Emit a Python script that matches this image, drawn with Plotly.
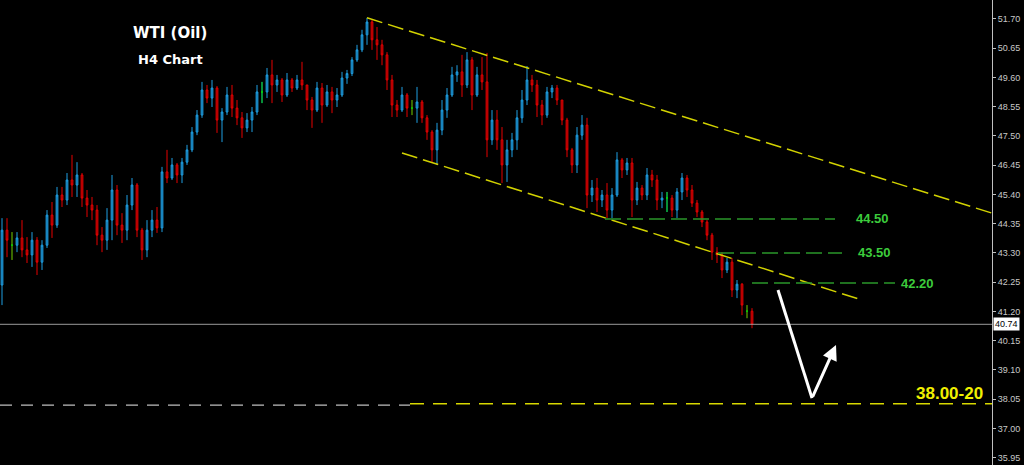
import plotly.graph_objects as go

# ---- data (H4 candles) ----
opens = [42.15,44.12,43.58,43.58,43.84,43.41,43.23,43.76,42.97,43.58,
         44.66,44.30,45.38,45.20,45.92,45.74,46.10,45.27,45.02,44.84,
         43.94,43.76,44.48,45.56,44.30,44.12,45.02,45.74,44.12,43.41,
         44.12,44.48,44.20,46.21,45.99,46.46,46.10,46.56,47.00,47.64,
         48.25,49.15,48.86,49.22,48.07,48.36,48.97,48.50,48.15,47.79,
         48.07,48.36,49.08,49.08,49.69,49.33,49.51,48.97,49.51,49.22,
         49.51,49.33,48.79,48.43,49.22,48.61,49.08,48.79,48.97,49.58,
         49.74,50.23,50.59,51.13,51.59,50.95,50.77,50.41,49.51,48.61,
         48.43,48.97,48.50,48.50,48.72,48.15,47.64,47.00,47.71,48.43,
         48.97,49.69,49.80,49.33,50.23,48.97,49.69,49.44,47.36,48.07,
         47.36,46.46,47.00,47.36,48.15,48.79,49.51,49.33,48.61,48.25,
         49.08,49.22,48.79,48.07,47.00,46.46,47.53,47.89,45.38,45.63,
         45.20,45.38,44.84,45.38,46.64,46.28,46.53,45.20,45.63,45.38,
         46.10,45.92,45.20,45.27,45.27,44.84,45.49,45.99,45.56,45.09,
         44.77,44.41,43.94,43.33,43.23,42.69,42.97,41.97,42.18,41.21,
         41.21]
highs = [44.55,44.55,44.05,44.05,44.48,43.87,44.05,43.87,43.76,44.84,
         45.13,45.67,45.67,46.17,46.82,46.56,46.17,45.56,45.31,45.02,
         44.23,44.91,46.10,45.74,44.73,45.38,45.99,45.81,44.20,44.48,
         44.84,44.95,46.39,47.00,46.71,46.53,46.71,47.18,47.82,48.43,
         49.44,49.33,49.51,49.29,48.50,49.26,49.33,48.79,48.36,48.32,
         48.54,49.33,49.44,49.94,50.23,49.69,49.58,49.76,49.58,49.69,
         50.16,49.33,48.90,49.44,49.40,49.33,49.26,49.22,49.80,49.87,
         50.33,50.77,51.31,51.74,51.66,51.41,50.95,50.51,49.69,48.79,
         49.26,49.04,48.79,49.26,48.79,48.25,47.71,47.97,48.79,49.22,
         49.98,50.04,50.41,50.51,50.33,49.98,50.33,50.48,48.43,48.43,
         47.82,47.36,47.61,48.43,49.15,50.01,49.69,49.51,48.79,49.26,
         49.33,49.33,48.79,48.15,47.07,47.82,48.25,48.15,45.92,45.99,
         45.56,45.81,45.63,46.92,46.71,46.71,46.71,45.85,45.74,46.35,
         46.28,46.10,45.49,45.49,45.38,45.63,46.17,46.10,45.74,45.20,
         44.84,44.48,44.02,43.51,43.33,43.12,43.12,42.33,42.22,41.43,
         41.32]
lows = [41.43,43.15,43.05,43.33,43.15,42.94,42.80,42.51,42.69,43.48,
        43.84,44.20,44.95,45.02,45.31,45.31,44.95,44.59,44.48,43.58,
        43.33,43.41,43.76,43.94,43.66,43.76,44.84,43.87,43.05,43.15,
        43.87,44.02,44.05,45.81,45.92,45.81,45.81,46.46,46.92,47.53,
        48.15,48.68,48.54,47.61,47.28,48.25,48.18,47.89,47.43,47.64,
        47.64,48.25,48.68,48.86,48.68,49.08,48.72,48.90,49.08,49.15,
        49.15,48.43,47.79,48.36,47.97,48.54,48.32,48.54,48.90,49.37,
        49.65,50.16,50.51,50.77,50.59,50.23,50.04,49.15,48.18,48.18,
        48.36,48.18,48.25,47.97,47.97,47.36,46.53,46.46,47.53,48.15,
        48.90,49.44,48.90,49.22,48.43,48.90,49.15,46.74,47.18,47.00,
        45.81,45.85,46.74,47.00,47.97,48.61,49.08,48.18,47.89,48.15,
        48.86,48.61,47.89,46.74,46.17,46.17,47.36,44.91,45.13,44.77,
        44.95,44.55,44.55,45.31,45.99,46.10,44.59,45.02,45.20,45.20,
        45.67,44.84,44.91,44.77,44.59,44.55,45.20,45.31,44.95,44.59,
        44.23,43.76,43.05,42.94,42.40,42.58,41.72,41.68,41.07,40.96,
        40.60]
closes = [44.12,43.76,43.58,43.84,43.41,43.23,43.76,42.97,43.58,44.66,
          44.30,45.38,45.20,45.92,45.74,46.10,45.27,45.02,44.84,43.94,
          43.76,44.48,45.56,44.30,44.12,45.02,45.74,44.12,43.41,44.12,
          44.48,44.20,46.21,45.99,46.46,46.10,46.56,47.00,47.64,48.25,
          49.15,48.86,49.22,48.07,48.36,48.97,48.50,48.15,47.79,48.07,
          48.36,49.08,49.08,49.69,49.33,49.51,48.97,49.51,49.22,49.51,
          49.33,48.79,48.43,49.22,48.61,49.08,48.79,48.97,49.58,49.74,
          50.23,50.59,51.13,51.59,50.95,50.77,50.41,49.51,48.61,48.43,
          48.97,48.50,48.50,48.72,48.15,47.64,47.00,47.71,48.43,48.97,
          49.69,49.80,49.33,50.23,48.97,49.69,49.44,47.36,48.07,47.36,
          46.46,47.00,47.36,48.15,48.79,49.51,49.33,48.61,48.25,49.08,
          49.22,48.79,48.07,47.00,46.46,47.53,47.89,45.38,45.63,45.20,
          45.38,44.84,45.38,46.64,46.28,46.53,45.20,45.63,45.38,46.10,
          45.92,45.20,45.27,45.27,44.84,45.49,45.99,45.56,45.09,44.77,
          44.41,43.94,43.33,43.23,42.69,42.97,41.97,42.18,41.43,41.21,
          40.74]
idx = list(range(len(closes)))

tick_vals = [51.70,50.65,49.60,48.55,47.50,46.45,45.40,44.35,43.30,42.25,
             41.20,40.15,39.10,38.05,37.00,35.95]
tick_text = ["51.70","50.65","49.60","48.55","47.50","46.45","45.40","44.35",
             "43.30","42.25","41.20","40.15","39.10","38.05","37.00","35.95"]

# levels (label, line price, line start/end in candle index)
level_labels = ["44.50", "43.50", "42.20"]
level_prices = [44.52, 43.30, 42.22]
level_x0 = [120.6, 143.2, 150.0]
level_x1 = [166.6, 168.0, 178.6]
level_label_x = [174.0, 174.5, 183.0]

# channel lines (candle index, price)
upper_channel = [(73.0, 51.74), (198.0, 44.73)]
lower_channel = [(80.0, 46.89), (172.0, 41.61)]
target_price = 37.84
target_label = "38.00-20"
last_price = 40.74
arrow_path = [(155.2, 41.97), (162.0, 38.09), (166.8, 40.00)]

# ---- figure ----
fig = go.Figure()
fig.add_trace(go.Candlestick(
    x=idx, open=opens, high=highs, low=lows, close=closes,
    increasing=dict(line=dict(color="#1e9fe2", width=1), fillcolor="#14699a"),
    decreasing=dict(line=dict(color="#e60000", width=1), fillcolor="#8b0000"),
    whiskerwidth=0, showlegend=False, hoverinfo="skip"))

dj = [i for i in idx if opens[i] == closes[i]]
fig.add_trace(go.Candlestick(
    x=dj, open=[opens[i] for i in dj], high=[highs[i] for i in dj],
    low=[lows[i] for i in dj], close=[closes[i] for i in dj],
    increasing=dict(line=dict(color="#00d000", width=1), fillcolor="#00d000"),
    decreasing=dict(line=dict(color="#00d000", width=1), fillcolor="#00d000"),
    whiskerwidth=0, showlegend=False, hoverinfo="skip"))

shapes = []
for (a, b) in (upper_channel, lower_channel):
    shapes.append(dict(type="line", xref="x", yref="y", x0=a[0], y0=a[1], x1=b[0], y1=b[1],
                       line=dict(color="#d2d200", width=1.5, dash="16px,6px")))
for p, x0, x1 in zip(level_prices, level_x0, level_x1):
    shapes.append(dict(type="line", xref="x", yref="y", x0=x0, y0=p, x1=x1, y1=p,
                       line=dict(color="#2a962a", width=1.5, dash="16px,6px")))
shapes.append(dict(type="line", xref="x", yref="y", x0=-0.4, y0=target_price, x1=81.6, y1=target_price,
                   line=dict(color="#bfbfbf", width=1.2, dash="12px,9px")))
shapes.append(dict(type="line", xref="x", yref="y", x0=81.6, y0=target_price + 0.05, x1=198, y1=target_price + 0.05,
                   line=dict(color="#d8d800", width=1.5, dash="14px,9px")))
shapes.append(dict(type="line", xref="paper", yref="y", x0=0, y0=last_price, x1=1, y1=last_price,
                   line=dict(color="#9a9a9a", width=1)))
shapes.append(dict(type="line", xref="x", yref="y", x0=arrow_path[0][0], y0=arrow_path[0][1],
                   x1=arrow_path[1][0], y1=arrow_path[1][1], line=dict(color="white", width=3)))

annotations = [
    dict(x=arrow_path[2][0], y=arrow_path[2][1], ax=arrow_path[1][0], ay=arrow_path[1][1],
         xref="x", yref="y", axref="x", ayref="y", text="", showarrow=True,
         arrowhead=2, arrowsize=1, arrowwidth=3, arrowcolor="white"),
    dict(x=170 / 992, y=1 - 33 / 465, xref="paper", yref="paper", xanchor="center", yanchor="middle",
         text="<b>WTI (Oil)</b>", showarrow=False,
         font=dict(family="DejaVu Sans", size=15, color="white")),
    dict(x=170 / 992, y=1 - 59 / 465, xref="paper", yref="paper", xanchor="center", yanchor="middle",
         text="<b>H4 Chart</b>", showarrow=False,
         font=dict(family="DejaVu Sans", size=13, color="white")),
]
for lab, p, lx in zip(level_labels, level_prices, level_label_x):
    annotations.append(dict(x=lx, y=p, xref="x", yref="y", xanchor="center", text="<b>%s</b>" % lab,
                            showarrow=False, font=dict(family="Liberation Sans", size=13, color="#3ccc3c")))
annotations.append(dict(x=196.5, y=target_price + 0.42, xref="x", yref="y", text="<b>%s</b>" % target_label,
                        xanchor="right", showarrow=False,
                        font=dict(family="Liberation Sans", size=17, color="#f0f000")))
annotations.append(dict(x=1, y=last_price, xref="paper", yref="y", xanchor="left", xshift=1,
                        text="%.2f" % last_price, showarrow=False, bgcolor="white",
                        borderpad=1, font=dict(family="Liberation Sans", size=9, color="black")))

fig.update_layout(
    width=1024, height=465,
    paper_bgcolor="black", plot_bgcolor="black",
    margin=dict(l=0, r=32, t=0, b=0),
    boxgap=0.5,
    shapes=shapes, annotations=annotations,
    showlegend=False,
    xaxis=dict(range=[-0.4, 198], visible=False, rangeslider=dict(visible=False), fixedrange=True),
    yaxis=dict(side="right", range=[35.69, 52.38], showgrid=False, zeroline=False,
               showline=True, linecolor="#c0c0c0", linewidth=1,
               ticks="outside", ticklen=3, tickcolor="#c0c0c0",
               tickvals=tick_vals, ticktext=tick_text,
               tickfont=dict(family="Liberation Sans", size=9, color="#c8c8c8"),
               automargin=False, fixedrange=True),
)

fig.write_html("out.html", config={"displayModeBar": False},
               post_script="document.body.style.margin='0';document.body.style.background='black';"
                           "document.body.style.overflow='hidden';")
